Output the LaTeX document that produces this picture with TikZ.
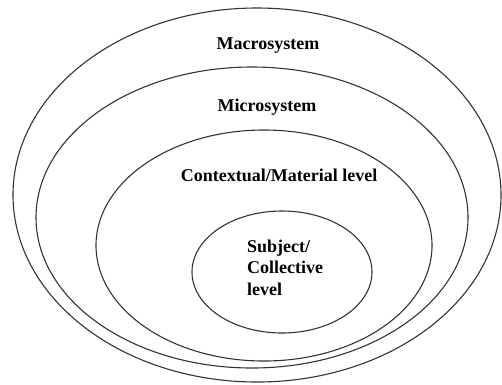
\documentclass[tikz,border=0pt]{standalone}
\usepackage{fontspec}
\setmainfont{Liberation Serif}
\usepackage{tikz}
\usetikzlibrary{shapes.geometric, positioning}

\tikzset{
  level/.style={ellipse, draw=black!80, line width=1.1pt, inner sep=0pt},
  lbl/.style={font=\fontsize{18}{21.5}\selectfont\bfseries, inner sep=0pt}
}

\begin{document}
\begin{tikzpicture}[x=1pt, y=-1pt]
    \useasboundingbox (0,0) rectangle (502,384);
    % the four nested levels
    \node[level, minimum width=488pt, minimum height=374pt] (macro) at (257,195) {};
    \node[level, minimum width=432pt, minimum height=301pt] (micro) at (252,217.5) {};
    \node[level, minimum width=336pt, minimum height=231pt] (context) at (264,245.5) {};
    \node[level, minimum width=180pt, minimum height=122pt] (subject) at (282,272) {};
    % labels
    \node[lbl, anchor=base] (macrolbl) at (268,49) {Macrosystem};
    \node[lbl, anchor=base] (microlbl) at (267,111.5) {Microsystem};
    \node[lbl, anchor=base] (contextlbl) at (279,181) {Contextual/Material level};
    \node[lbl, anchor=west, align=left] (subjectlbl) at (247,267.5) {Subject/\\Collective\\level};
\end{tikzpicture}
\end{document}
